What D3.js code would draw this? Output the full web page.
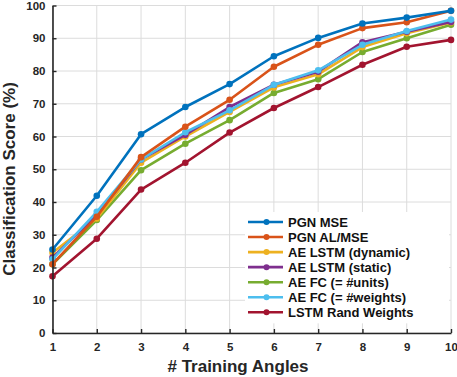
<!DOCTYPE html>
<html>
<head>
<meta charset="utf-8">
<script src="https://cdn.jsdelivr.net/npm/d3@7"></script>
<style>
  body { margin: 0; background: #fff; }
  svg { display: block; font-family: "Liberation Sans", Arial, sans-serif; }
</style>
</head>
<body>
<div id="chart"></div>
<script>
// --- data ---
const angles = [1, 2, 3, 4, 5, 6, 7, 8, 9, 10];
const seriesNames = [
  "PGN MSE", "PGN AL/MSE", "AE LSTM (dynamic)", "AE LSTM (static)",
  "AE FC (= #units)", "AE FC (= #weights)", "LSTM Rand Weights"
];
const seriesColors = ["#0072BD", "#D95319", "#EDB120", "#7E2F8E", "#77AC30", "#4DBEEE", "#A2142F"];
const pgnMse     = [25.5, 41.9, 60.7, 69.0, 76.0, 84.5, 90.1, 94.5, 96.3, 98.4];
const pgnAlMse   = [21.0, 35.5, 53.7, 63.0, 71.2, 81.3, 88.0, 93.1, 94.9, 98.4];
const aeLstmDyn  = [24.5, 35.0, 52.0, 60.0, 67.5, 75.0, 79.0, 87.3, 91.5, 94.8];
const aeLstmStat = [23.0, 36.0, 53.0, 60.5, 69.0, 75.8, 79.8, 88.8, 92.0, 95.0];
const aeFcUnits  = [21.0, 34.5, 49.7, 57.8, 65.0, 73.3, 77.5, 85.8, 90.0, 94.1];
const aeFcWts    = [22.5, 37.0, 53.0, 61.3, 68.0, 75.8, 80.2, 88.0, 92.2, 95.7];
const lstmRand   = [17.3, 28.8, 43.8, 52.0, 61.2, 68.7, 75.1, 81.9, 87.4, 89.5];
const seriesValues = [pgnMse, pgnAlMse, aeLstmDyn, aeLstmStat, aeFcUnits, aeFcWts, lstmRand];
const yTicks = d3.range(0, 101, 10);

const width = 457, height = 377;
const margin = { left: 52.5, right: 6, top: 5.5, bottom: 44 };

const svg = d3.select("#chart").append("svg")
  .attr("width", width).attr("height", height);

const x = d3.scaleLinear().domain([1, 10]).range([margin.left, width - margin.right]);
const y = d3.scaleLinear().domain([0, 100]).range([height - margin.bottom, margin.top]);

// grid
const grid = svg.append("g").attr("stroke", "#dcdcdc").attr("stroke-width", 1);
grid.selectAll(".gx").data(angles).enter().append("line")
  .attr("x1", d => x(d)).attr("x2", d => x(d))
  .attr("y1", y(0)).attr("y2", y(100));
grid.selectAll(".gy").data(yTicks).enter().append("line")
  .attr("x1", x(1)).attr("x2", x(10))
  .attr("y1", d => y(d)).attr("y2", d => y(d));

// series
const line = d3.line().x((d, i) => x(angles[i])).y(d => y(d));
const series = seriesValues.map((v, k) => ({ name: seriesNames[k], color: seriesColors[k], values: v }));
const drawOrder = [6, 4, 2, 3, 5, 1, 0];
drawOrder.forEach(k => {
  const s = series[k];
  const g = svg.append("g");
  g.append("path").datum(s.values)
    .attr("d", line).attr("fill", "none")
    .attr("stroke", s.color).attr("stroke-width", 2.6)
    .attr("stroke-linejoin", "round");
  g.selectAll("circle").data(s.values).enter().append("circle")
    .attr("cx", (d, i) => x(angles[i])).attr("cy", d => y(d))
    .attr("r", 3.3).attr("fill", s.color);
});

// axes
const xAxis = svg.append("g")
  .attr("transform", `translate(0,${y(0)})`)
  .call(d3.axisBottom(x).tickValues(angles).tickSizeInner(-4).tickSizeOuter(0).tickPadding(10));
const yAxis = svg.append("g")
  .attr("transform", `translate(${x(1)},0)`)
  .call(d3.axisLeft(y).tickValues(yTicks).tickSizeInner(-4).tickSizeOuter(0).tickPadding(7));
[xAxis, yAxis].forEach(a => {
  a.select(".domain").attr("stroke", "#262626").attr("stroke-width", 1.6);
  a.selectAll(".tick line").attr("stroke", "#262626").attr("stroke-width", 1.4);
  a.selectAll("text").attr("fill", "#262626").attr("font-size", "11.5px")
    .attr("font-weight", "bold").attr("font-family", "Liberation Sans, Arial, sans-serif");
});

// axis titles
svg.append("text")
  .attr("x", 238).attr("y", 372)
  .attr("text-anchor", "middle")
  .attr("font-size", "17px").attr("font-weight", "bold").attr("fill", "#262626")
  .text("# Training Angles");
svg.append("text")
  .attr("transform", `translate(15,179) rotate(-90)`)
  .attr("text-anchor", "middle")
  .attr("font-size", "17px").attr("font-weight", "bold").attr("fill", "#262626")
  .text("Classification Score (%)");

// legend
const lx = 245, ly = 212, step = 15.05;
const legend = svg.append("g");
legend.append("rect")
  .attr("x", lx).attr("y", ly).attr("width", 204).attr("height", step * 7 + 6)
  .attr("fill", "#fff");
series.forEach((s, i) => {
  const cy = ly + 10 + i * step;
  legend.append("line")
    .attr("x1", lx + 3).attr("x2", lx + 38).attr("y1", cy).attr("y2", cy)
    .attr("stroke", s.color).attr("stroke-width", 2.6);
  legend.append("circle")
    .attr("cx", lx + 21.5).attr("cy", cy).attr("r", 3).attr("fill", s.color);
  legend.append("text")
    .attr("x", lx + 43).attr("y", cy).attr("dy", "0.36em")
    .attr("font-size", "13px").attr("font-weight", "bold").attr("fill", "#111")
    .text(s.name);
});
</script>
</body>
</html>
